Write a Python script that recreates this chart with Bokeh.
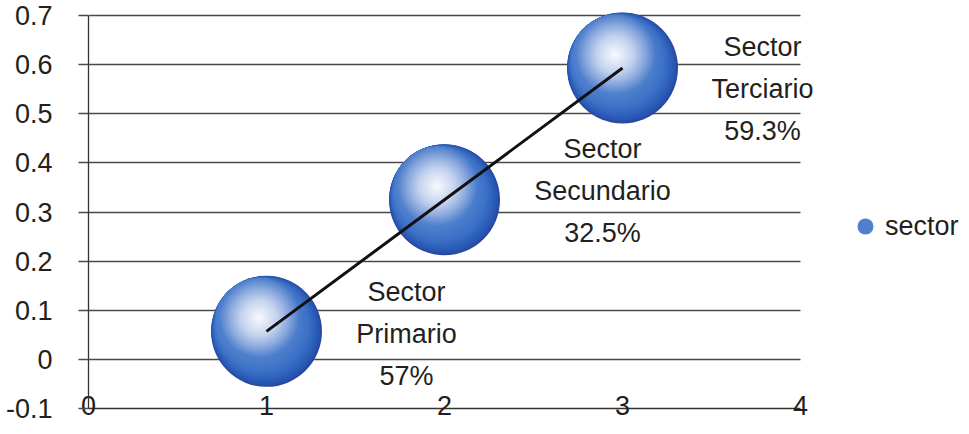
import numpy as np
from bokeh.plotting import figure
from bokeh.models import Range1d, FixedTicker, Legend, LegendItem, ColumnDataSource
from bokeh.embed import file_html
from bokeh.resources import INLINE
from bokeh.core.properties import value

# ---------------- data ----------------
sector_x = [1, 2, 3]
sector_y = [0.057, 0.325, 0.593]
sector_word = ["Sector", "Sector", "Sector"]
sector_names = ["Primario", "Secundario", "Terciario"]
sector_pct = ["57%", "32.5%", "59.3%"]
series_name = "sector"
x_ticks = [0, 1, 2, 3, 4]
y_ticks = [-0.1, 0, 0.1, 0.2, 0.3, 0.4, 0.5, 0.6, 0.7]
y_tick_labels = ["-0.1", "0", "0.1", "0.2", "0.3", "0.4", "0.5", "0.6", "0.7"]

# ---------------- style / layout ----------------
W, H = 961, 426
BL, BR, BT, BB = 88, 0, 0, 18
FONT = "Liberation Sans"
FS = "27px"
TXT = "#231f20"
GRID = "#4a4a4a"
frame_w = W - BL - BR
frame_h = H - BT - BB
x_axis_end_px = 712            # px from frame left where the last x tick sits
y_top_pad_px = 15              # px between frame top and the top y tick
X0 = x_ticks[0]
X1 = x_ticks[0] + (x_ticks[-1] - x_ticks[0]) * frame_w / x_axis_end_px
Y0 = y_ticks[0]
Y1 = y_ticks[-1] + (y_ticks[-1] - y_ticks[0]) * y_top_pad_px / (frame_h - y_top_pad_px)
ux = (X1 - X0) / frame_w       # data units per screen px (x)
uy = (Y1 - Y0) / frame_h       # data units per screen px (y)

R = 55.5                       # bubble radius in px
foc = np.array([-7.5, -13.5])  # highlight offset in screen px (y down)
a = float(np.hypot(*foc))
u_t = np.array([-0.62, -0.78])
u_t = u_t / np.hypot(*u_t)

def lerp_color(stops, t):
    ts = [s[0] for s in stops]
    cols = [np.array([int(s[1][i:i + 2], 16) for i in (1, 3, 5)], float) for s in stops]
    for i in range(len(ts) - 1):
        if ts[i] <= t <= ts[i + 1]:
            f = (t - ts[i]) / (ts[i + 1] - ts[i])
            c = cols[i] * (1 - f) + cols[i + 1] * f
            return "#%02x%02x%02x" % tuple(int(round(v)) for v in c)
    c = cols[-1]
    return "#%02x%02x%02x" % tuple(int(round(v)) for v in c)

rim_stops = [(0.0, "#2c47a0"), (0.12, "#2658b4"), (0.5, "#3b70c6"), (1.0, "#4f80cd")]
core_stops = [(0.0, "#4f80cd"), (0.25, "#8aa8dd"), (0.55, "#c4d3ee"), (1.0, "#f7f9fd")]

layers = []  # (dx_px, dy_px, radius_px, color)
n1, n2 = 18, 44
for i in range(n1):
    t = i / n1
    r = R - t * a
    off = (R - r) * u_t
    layers.append((off[0], off[1], r, lerp_color(rim_stops, t)))
r_core = R - a
for i in range(n2):
    t = i / n2
    r = r_core * (1 - t) + 0.8 * t
    layers.append((foc[0], foc[1], r, lerp_color(core_stops, t)))

bx, by, bs, bc = [], [], [], []
for (dx, dy, r, col) in layers:
    for xv, yv in zip(sector_x, sector_y):
        bx.append(xv + dx * ux)
        by.append(yv - dy * uy)
        bs.append(2 * r)
        bc.append(col)
bubble_src = ColumnDataSource(dict(x=bx, y=by, size=bs, color=bc))

label_dx_px = [140, 158, 140]
label_dy_px = [3, -9, 21]
line_gap = 42

# ---------------- figure ----------------
p = figure(width=W, height=H, output_backend="svg", toolbar_location=None,
           x_range=Range1d(X0, X1), y_range=Range1d(Y0, Y1),
           min_border_left=BL, min_border_right=BR, min_border_top=BT, min_border_bottom=BB)
p.outline_line_color = None
p.background_fill_color = "white"
p.border_fill_color = "white"

p.xgrid.visible = False
grid = p.ygrid[0]
grid.ticker = FixedTicker(ticks=y_ticks)
grid.grid_line_color = GRID
grid.grid_line_width = 1.3
if "cross_bounds" in grid.properties():
    grid.cross_bounds = (x_ticks[0], x_ticks[-1])
else:
    grid.visible = False
    p.segment(x0=[x_ticks[0]] * len(y_ticks), x1=[x_ticks[-1]] * len(y_ticks),
              y0=y_ticks, y1=y_ticks, line_color=GRID, line_width=1.3)

p.yaxis.ticker = FixedTicker(ticks=y_ticks)
p.yaxis.bounds = (y_ticks[0], y_ticks[-1])
p.yaxis.major_label_overrides = {t: l for t, l in zip(y_ticks, y_tick_labels)}
p.yaxis.major_tick_out = 10
p.yaxis.major_tick_in = 0
p.yaxis.minor_tick_line_color = None
p.yaxis.major_tick_line_color = GRID
p.yaxis.major_tick_line_width = 1.3
p.yaxis.axis_line_color = "#333333"
p.yaxis.axis_line_width = 1.3
p.yaxis.major_label_standoff = 26

p.xaxis.ticker = FixedTicker(ticks=x_ticks)
p.xaxis.bounds = (x_ticks[0], x_ticks[-1])
p.xaxis.major_tick_out = 0
p.xaxis.major_tick_in = 0
p.xaxis.minor_tick_line_color = None
p.xaxis.axis_line_color = "#333333"
p.xaxis.axis_line_width = 1.3
p.xaxis.major_label_standoff = -13

for ax in (p.xaxis, p.yaxis):
    ax.major_label_text_font = FONT
    ax.major_label_text_font_size = FS
    ax.major_label_text_color = TXT

bubbles = p.scatter("x", "y", size="size", fill_color="color", line_color=None,
                    marker="circle", source=bubble_src)

p.line(sector_x, sector_y, line_color="#111111", line_width=3)

for k, lines in enumerate([sector_word, sector_names, sector_pct]):
    p.text(x=sector_x, y=sector_y, text=lines,
           x_offset=label_dx_px, y_offset=[d + (k - 1) * line_gap for d in label_dy_px],
           text_align="center", text_baseline="middle",
           text_font=value(FONT), text_font_size=FS, text_color=TXT)

legend_idx = 3 * n1
legend = Legend(items=[LegendItem(label=series_name, renderers=[bubbles], index=legend_idx)],
                location=(757, 162), glyph_width=40, glyph_height=40, label_standoff=-6,
                padding=0, margin=0, border_line_color=None, background_fill_alpha=0,
                label_text_font=FONT, label_text_font_size=FS, label_text_color=TXT)
p.add_layout(legend, "center")

open("out.html", "w").write(file_html(p, INLINE))
